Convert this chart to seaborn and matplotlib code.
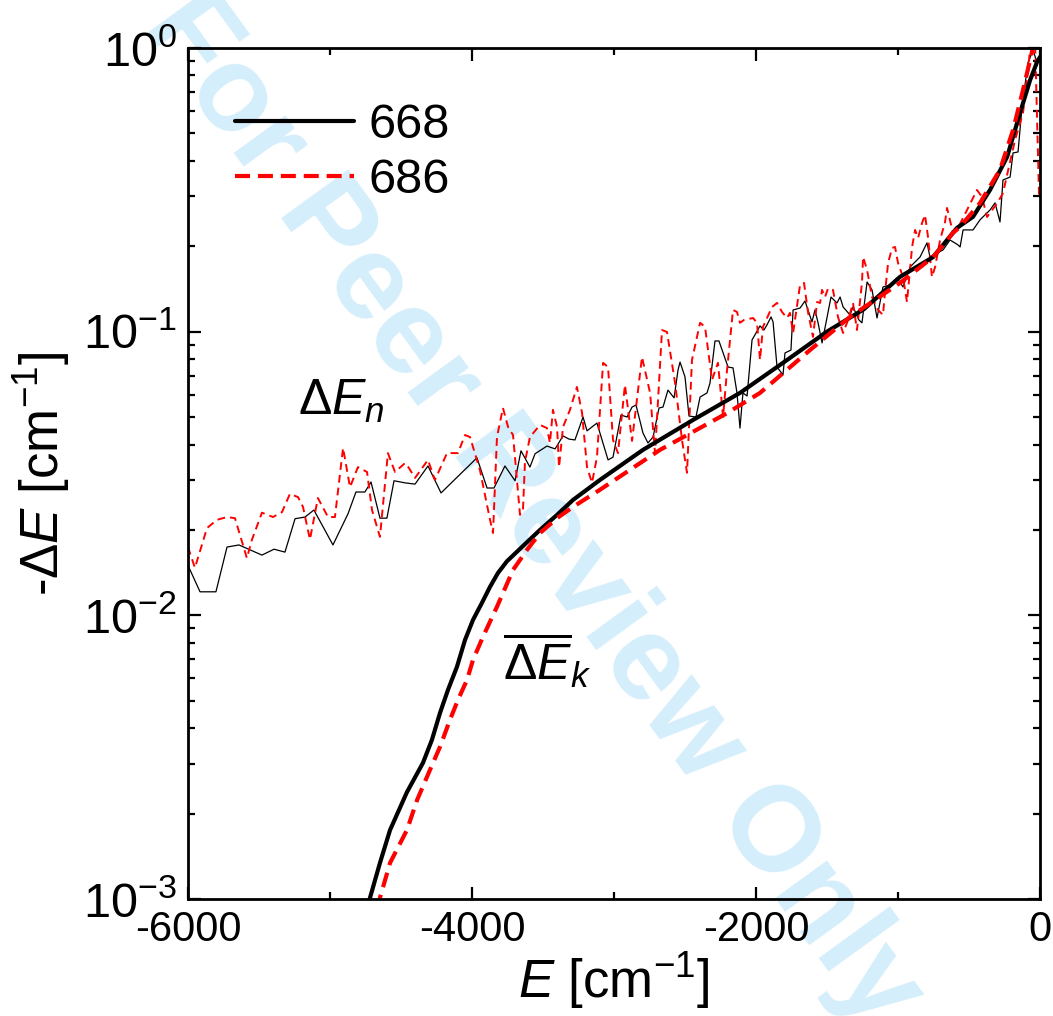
import numpy as np
import pandas as pd
import seaborn as sns
import matplotlib.pyplot as plt
from matplotlib.ticker import MultipleLocator, NullFormatter

# ---- data ----
# smooth (averaged) curves
E_avg_668 = [-4740, -4718, -4648, -4577, -4458, -4345, -4282, -4225, -4169, -4106, -4049,
             -3993, -3930, -3873, -3817, -3754, -3641, -3521, -3401, -3289, -3099, -2796,
             -2444, -2113, -1782, -1500, -1240, -986, -754, -585, -472, -352, -232, -141,
             -70, -21, 0]
dE_avg_668 = [0.00092, 0.00101, 0.00134, 0.00175, 0.00238, 0.00302, 0.00364, 0.00453,
              0.00546, 0.00658, 0.00819, 0.00963, 0.01106, 0.0126, 0.0141, 0.0155, 0.01755,
              0.0200, 0.0226, 0.0255, 0.0300, 0.0383, 0.0488, 0.0608, 0.0794, 0.1000,
              0.1200, 0.1560, 0.1830, 0.2320, 0.2540, 0.3160, 0.4130, 0.5900, 0.7710,
              0.8920, 0.93]

E_avg_686 = [-4670, -4648, -4577, -4458, -4387, -4296, -4225, -4155, -4099, -4035, -3993,
             -3923, -3824, -3711, -3613, -3521, -3401, -3289, -3099, -2676, -2204, -1972,
             -1620, -1338, -986, -754, -613, -563, -423, -282, -190, -120, -70, -49, -30]
dE_avg_686 = [0.00092, 0.00101, 0.00134, 0.00175, 0.00223, 0.00285, 0.00344, 0.00428,
              0.00503, 0.00592, 0.00696, 0.00839, 0.01072, 0.01445, 0.0170, 0.0195, 0.0220,
              0.0241, 0.0277, 0.0383, 0.0516, 0.0608, 0.0861, 0.1127, 0.1485, 0.183, 0.223,
              0.234, 0.284, 0.372, 0.514, 0.711, 0.907, 1.008, 1.2]

# noisy (instantaneous) curves
E_n_668 = [-6000, -5915, -5803, -5725, -5641, -5479, -5394, -5317, -5246, -5176, -5113, -4979,
           -4873, -4817, -4754, -4711, -4648, -4599, -4549, -4472, -4401, -4310, -4218, -3965,
           -3894, -3845, -3768, -3697, -3655, -3592, -3556, -3472, -3415, -3359, -3317, -3275,
           -3218, -3190, -3120, -3042, -3007, -2951, -2908, -2873, -2845, -2796, -2761, -2725,
           -2683, -2655, -2620, -2577, -2549, -2535, -2500, -2472, -2423, -2394, -2345, -2324,
           -2289, -2261, -2197, -2162, -2134, -2113, -2092, -2063, -2028, -2000, -1972, -1944,
           -1923, -1894, -1880, -1852, -1810, -1796, -1754, -1739, -1690, -1655, -1606, -1585,
           -1563, -1535, -1472, -1430, -1408, -1387, -1338, -1317, -1275, -1254, -1218, -1183,
           -1148, -1106, -1056, -1007, -965, -915, -845, -796, -775, -725, -683, -634, -578,
           -563, -542, -472, -423, -352, -317, -282, -261, -211, -190, -155, -127, -85, -49,
           -21, -7]
dE_n_668 = [0.0150, 0.0121, 0.0121, 0.0174, 0.0177, 0.0163, 0.0171, 0.0167, 0.0219, 0.0222,
            0.0235, 0.0177, 0.0228, 0.0272, 0.0272, 0.0295, 0.0220, 0.0220, 0.0298, 0.0293,
            0.0290, 0.0336, 0.0270, 0.0359, 0.0281, 0.0281, 0.0336, 0.0298, 0.0380, 0.0333,
            0.0371, 0.0395, 0.0386, 0.0429, 0.0418, 0.0415, 0.0500, 0.0447, 0.0476, 0.0353,
            0.0361, 0.0508, 0.0500, 0.0542, 0.0551, 0.0439, 0.0405, 0.0425, 0.0538, 0.0542,
            0.0622, 0.0584, 0.0733, 0.0781, 0.0692, 0.0504, 0.0500, 0.0588, 0.0608, 0.0659,
            0.0927, 0.0927, 0.0750, 0.0745, 0.0608, 0.0457, 0.0608, 0.0593, 0.0935, 0.0989,
            0.1047, 0.1013, 0.1056, 0.1127, 0.1082, 0.0750, 0.0704, 0.0841, 0.0861, 0.1192,
            0.1211, 0.1282, 0.1082, 0.1192, 0.1074, 0.0912, 0.1324, 0.1262, 0.1324, 0.1222,
            0.1145, 0.1222, 0.1099, 0.1074, 0.1496, 0.1403, 0.1117, 0.1437, 0.1461, 0.1546,
            0.1437, 0.1690, 0.1833, 0.2055, 0.1833, 0.1894, 0.1941, 0.2104, 0.2022, 0.1988,
            0.2283, 0.2283, 0.2477, 0.2685, 0.2844, 0.2435, 0.3425, 0.3507, 0.4265, 0.4299,
            0.6194, 0.8853, 0.984, 0.885, 0.90]

E_n_686 = [-6000, -5951, -5866, -5796, -5725, -5669, -5585, -5549, -5479, -5401, -5338, -5282,
           -5225, -5190, -5141, -5085, -5014, -4965, -4908, -4859, -4803, -4739, -4704, -4648,
           -4592, -4542, -4472, -4458, -4401, -4310, -4261, -4176, -4099, -4049, -4014, -3944,
           -3873, -3852, -3824, -3782, -3746, -3711, -3662, -3641, -3627, -3592, -3521, -3472,
           -3451, -3430, -3401, -3387, -3359, -3310, -3261, -3225, -3190, -3155, -3120, -3077,
           -3042, -3007, -2972, -2923, -2873, -2803, -2746, -2711, -2662, -2627, -2570, -2521,
           -2486, -2451, -2394, -2359, -2310, -2268, -2232, -2204, -2162, -2134, -2113, -2085,
           -2021, -1993, -1972, -1951, -1887, -1852, -1817, -1782, -1761, -1739, -1690, -1662,
           -1634, -1599, -1570, -1549, -1535, -1514, -1493, -1458, -1423, -1387, -1352, -1317,
           -1289, -1254, -1246, -1218, -1183, -1141, -1106, -1092, -1070, -1042, -1021, -1000,
           -965, -937, -901, -880, -859, -831, -810, -789, -761, -739, -704, -669, -655, -613,
           -585, -514, -444, -409, -373, -296, -261, -176, -120, -70, -35, -7]
dE_n_686 = [0.0174, 0.0147, 0.0203, 0.0217, 0.0222, 0.0220, 0.0159, 0.0185, 0.0230, 0.0222,
            0.0231, 0.0268, 0.0261, 0.0241, 0.0185, 0.0259, 0.0222, 0.0222, 0.0389, 0.0283,
            0.0333, 0.0320, 0.0235, 0.0189, 0.0373, 0.0320, 0.0344, 0.0339, 0.0305, 0.0353,
            0.0300, 0.0373, 0.0373, 0.0432, 0.0425, 0.0325, 0.0217, 0.0195, 0.0425, 0.0538,
            0.0461, 0.0432, 0.0226, 0.0235, 0.0347, 0.0425, 0.0469, 0.0457, 0.0405, 0.0530,
            0.0461, 0.0333, 0.0461, 0.0530, 0.0638, 0.0517, 0.0333, 0.0293, 0.0361, 0.0776,
            0.0750, 0.0415, 0.0373, 0.0649, 0.0412, 0.0814, 0.0608, 0.0373, 0.1013, 0.0997,
            0.0659, 0.0415, 0.0318, 0.0794, 0.1074, 0.1039, 0.0676, 0.0776, 0.0500, 0.0733,
            0.1192, 0.1173, 0.1074, 0.1099, 0.1117, 0.1074, 0.0794, 0.1039, 0.1222, 0.1262,
            0.1173, 0.1117, 0.1164, 0.0989, 0.1461, 0.1485, 0.1173, 0.0958, 0.1272, 0.1262,
            0.1403, 0.1324, 0.1420, 0.1403, 0.1127, 0.0989, 0.1099, 0.1262, 0.1013, 0.1485,
            0.1833, 0.1650, 0.1324, 0.1192, 0.1145, 0.1369, 0.1746, 0.1972, 0.1988, 0.1746,
            0.1558, 0.1272, 0.1988, 0.2283, 0.2138, 0.2416, 0.2578, 0.2157, 0.1558, 0.1690,
            0.2104, 0.2435, 0.2729, 0.2229, 0.2283, 0.2685, 0.3158, 0.2983, 0.2536, 0.2865,
            0.3082, 0.474, 0.590, 0.984, 1.05, 0.30]

x_label = r'$E$ [cm$^{-1}$]'
y_label = r'-$\Delta E$ [cm$^{-1}$]'
series_labels = ['668', '686']

# ---- style ----
sns.set_style("ticks")
plt.rcParams['font.family'] = ['Liberation Sans', 'DejaVu Sans']
plt.rcParams['mathtext.fontset'] = 'custom'
plt.rcParams['mathtext.rm'] = 'Liberation Sans'
plt.rcParams['mathtext.it'] = 'Liberation Sans:italic'
plt.rcParams['axes.unicode_minus'] = False
for key in ['text.color', 'axes.labelcolor', 'xtick.color', 'ytick.color', 'axes.edgecolor']:
    plt.rcParams[key] = 'black'

fig = plt.figure(figsize=(10.53, 10.16), dpi=100)
ax = fig.add_axes([0.1785, 0.1152, 0.8092, 0.8376])
ax.patch.set_alpha(0)

# watermark behind the axes
fig.text(0.505, 0.497, 'For Peer Review Only', fontsize=87, fontweight='bold',
         color='#d4eefb', rotation=-54, ha='center', va='center', zorder=-5,
         rotation_mode='anchor')

noisy_668 = pd.DataFrame({'E': E_n_668, 'dE': dE_n_668})
noisy_686 = pd.DataFrame({'E': E_n_686, 'dE': dE_n_686})
avg_668 = pd.DataFrame({'E': E_avg_668, 'dE': dE_avg_668})
avg_686 = pd.DataFrame({'E': E_avg_686, 'dE': dE_avg_686})

sns.lineplot(data=noisy_668, x='E', y='dE', ax=ax, color='black', linewidth=0.9,
             sort=False, estimator=None)
sns.lineplot(data=noisy_686, x='E', y='dE', ax=ax, color='red', linewidth=1.4,
             linestyle=(0, (4.0, 2.6)), sort=False, estimator=None)
sns.lineplot(data=avg_668, x='E', y='dE', ax=ax, color='black', linewidth=3.0,
             sort=False, estimator=None, label=series_labels[0])
sns.lineplot(data=avg_686, x='E', y='dE', ax=ax, color='red', linewidth=3.0,
             linestyle=(0, (3.6, 1.9)), sort=False, estimator=None, label=series_labels[1])

ax.set_yscale('log')
ax.set_xlim(-6000, 0)
ax.set_ylim(1e-3, 1)
ax.xaxis.set_major_locator(MultipleLocator(2000))
ax.xaxis.set_minor_locator(MultipleLocator(1000))
ax.yaxis.set_minor_formatter(NullFormatter())

ax.tick_params(which='both', direction='in', top=True, right=True, width=1.6)
ax.tick_params(which='major', length=9, pad=8)
ax.tick_params(which='minor', length=5)
ax.tick_params(axis='x', labelsize=30)
ax.tick_params(axis='y', labelsize=35)
for s in ax.spines.values():
    s.set_linewidth(2.0)
    s.set_color('black')

ax.set_xlabel(x_label, fontsize=38)
ax.set_ylabel(y_label, fontsize=38)
ax.xaxis.set_label_coords(0.5, -0.06)
ax.yaxis.set_label_coords(-0.136, 0.5)

ax.text(-5225, 0.0508, r'$\Delta E_n$', fontsize=36, ha='left', va='baseline')
ax.text(-3782, 0.0059, r'$\overline{\Delta E}_k$', fontsize=36, ha='left', va='baseline')

ax.legend(loc='upper left', bbox_to_anchor=(0.055, 0.935), frameon=False, fontsize=35,
          handlelength=2.45, handletextpad=0.3, labelspacing=0.2, borderpad=0,
          borderaxespad=0)

fig.savefig('out.png', dpi=100)
